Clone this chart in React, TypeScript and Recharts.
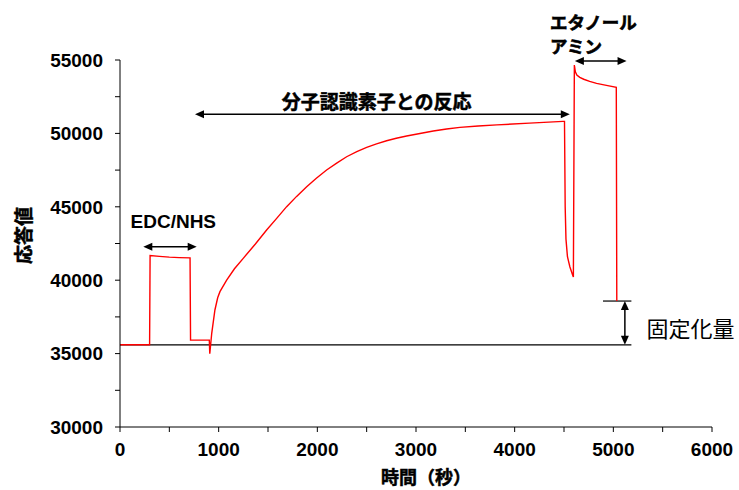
import {
  Line,
  LineChart,
  ReferenceDot,
  ReferenceLine,
  XAxis,
  YAxis,
} from "recharts";

// measured sensor response (time in s, response)
const times = [
  0, 300, 305, 400, 500, 600, 710, 715, 905, 910, 930, 962, 990, 1013, 1081,
  1160, 1249, 1370, 1486, 1590, 1689, 1790, 1892, 1990, 2094, 2200, 2297, 2400,
  2500, 2600, 2702, 2800, 2905, 3040, 3175, 3310, 3445, 3630, 3820, 4150, 4490,
  4505, 4512, 4520, 4535, 4560, 4590, 4595, 4605, 4615, 4630, 4660, 4700, 4760,
  4830, 4930, 5030, 5035,
];
const responses = [
  35600, 35600, 41680, 41620, 41570, 41540, 41520, 35920, 35920, 35000, 36400,
  37970, 38800, 39220, 40010, 40780, 41490, 42450, 43420, 44230, 45010, 45710,
  46370, 46950, 47510, 47990, 48410, 48760, 49050, 49290, 49500, 49670, 49820,
  49990, 50160, 50300, 50410, 50500, 50580, 50700, 50820, 50820, 45000, 42800,
  41600, 40900, 40300, 40220, 54660, 54200, 53980, 53820, 53690, 53540, 53410,
  53270, 53140, 38580,
];

const baseLevel = 35600;
const finalLevel = 38580;
const baseEnd = 5183;
const finalStart = 4895;

const xTicks = [0, 500, 1000, 1500, 2000, 2500, 3000, 3500, 4000, 4500, 5000, 5500, 6000];
const yTicks = [30000, 32500, 35000, 37500, 40000, 42500, 45000, 47500, 50000, 52500, 55000];

const series = times.map((t, i) => ({ t, v: responses[i] }));
const baseline = [
  { t: 0, v: baseLevel },
  { t: baseEnd, v: baseLevel },
];
const finalLine = [
  { t: finalStart, v: finalLevel },
  { t: baseEnd, v: finalLevel },
];

// annotation arrows: [t1, v1, t2, v2]
const arrows = [
  [236, 42280, 777, 42280],
  [760, 51300, 4559, 51300],
  [4610, 54930, 5134, 54930],
  [5117, finalLevel, 5117, baseLevel],
];

const LATIN = "'Liberation Sans', Arial, 'Noto Sans CJK JP', sans-serif";

function ArrowLine(props: any) {
  const { x1, y1, x2, y2 } = props;
  const dx = x2 - x1;
  const dy = y2 - y1;
  const len = Math.sqrt(dx * dx + dy * dy) || 1;
  const ux = dx / len;
  const uy = dy / len;
  const hl = 9;
  const hw = 4;
  const head = (px: number, py: number, dirx: number, diry: number) => {
    const bx = px - dirx * hl;
    const by = py - diry * hl;
    return `${px},${py} ${bx - diry * hw},${by + dirx * hw} ${bx + diry * hw},${by - dirx * hw}`;
  };
  return (
    <g>
      <line x1={x1 + ux * 4} y1={y1 + uy * 4} x2={x2 - ux * 4} y2={y2 - uy * 4} stroke="#000" strokeWidth={1.5} />
      <polygon points={head(x2, y2, ux, uy)} fill="#000" />
      <polygon points={head(x1, y1, -ux, -uy)} fill="#000" />
    </g>
  );
}

function textShape(label: string, size: number, weight: string, anchor: "start" | "middle", heavy = 0) {
  return (p: any) => (
    <text
      x={p.cx}
      y={p.cy}
      fontSize={size}
      fontWeight={weight}
      fontFamily={LATIN}
      textAnchor={anchor}
      dominantBaseline="central"
      fill="#000"
      stroke={heavy ? "#000" : "none"}
      strokeWidth={heavy}
    >
      {label}
    </text>
  );
}

function YTitle(props: any) {
  const vb = props.viewBox;
  const cx = vb.x + 24;
  const cy = vb.y + vb.height / 2 - 8;
  return (
    <text
      x={cx}
      y={cy}
      transform={`rotate(-90, ${cx}, ${cy})`}
      textAnchor="middle"
      dominantBaseline="central"
      fontSize={19}
      fontWeight="bold"
      fontFamily={LATIN}
      fill="#000"
      stroke="#000"
      strokeWidth={0.5}
    >
      応答値
    </text>
  );
}

function XTitle(props: any) {
  const vb = props.viewBox;
  return (
    <text
      x={vb.x + vb.width / 2 + 10}
      y={vb.y + 51}
      textAnchor="middle"
      dominantBaseline="central"
      fontSize={18}
      fontWeight="bold"
      fontFamily={LATIN}
      fill="#000"
      stroke="#000"
      strokeWidth={0.5}
    >
      時間（秒）
    </text>
  );
}

const tickStyle = { fill: "#000", fontSize: 19, fontWeight: "bold", fontFamily: LATIN };

export default function App() {
  return (
    <div style={{ position: "absolute", left: 0, top: 0, width: 739, height: 490, background: "#fff" }}>
      <LineChart
        width={739}
        height={490}
        margin={{ top: 60, right: 27, left: 0, bottom: 0 }}
      >
        <XAxis
          dataKey="t"
          type="number"
          domain={[0, 6000]}
          ticks={xTicks}
          tickFormatter={(v) => (v % 1000 === 0 ? String(v) : "")}
          tick={tickStyle}
          tickSize={5}
          tickMargin={11}
          stroke="#000"
          height={63}
          label={<XTitle />}
          allowDuplicatedCategory={false}
        />
        <YAxis
          type="number"
          domain={[30000, 55000]}
          ticks={yTicks}
          tickFormatter={(v) => (v % 5000 === 0 ? String(v) : "")}
          tick={tickStyle}
          tickSize={5}
          tickMargin={12}
          stroke="#000"
          width={120}
          label={<YTitle />}
        />
        <Line
          data={baseline}
          dataKey="v"
          type="linear"
          stroke="#000"
          strokeWidth={1.2}
          dot={false}
          isAnimationActive={false}
        />
        <Line
          data={finalLine}
          dataKey="v"
          type="linear"
          stroke="#000"
          strokeWidth={1.2}
          dot={false}
          isAnimationActive={false}
        />
        <Line
          data={series}
          dataKey="v"
          type="linear"
          stroke="#ff0000"
          strokeWidth={1.4}
          dot={false}
          isAnimationActive={false}
        />
        {arrows.map((a, i) => (
          <ReferenceLine
            key={i}
            segment={[
              { x: a[0], y: a[1] },
              { x: a[2], y: a[3] },
            ]}
            ifOverflow="visible"
            shape={ArrowLine}
          />
        ))}
        <ReferenceDot x={540} y={43965} r={0} ifOverflow="visible" shape={textShape("EDC/NHS", 19, "bold", "middle")} />
        <ReferenceDot x={2600} y={52090} r={0} ifOverflow="visible" shape={textShape("分子認識素子との反応", 19, "bold", "middle", 0.5)} />
        <ReferenceDot x={4357} y={57540} r={0} ifOverflow="visible" shape={textShape("エタノール", 17.5, "bold", "start", 0.6)} />
        <ReferenceDot x={4357} y={55905} r={0} ifOverflow="visible" shape={textShape("アミン", 17.5, "bold", "start", 0.6)} />
        <ReferenceDot x={5336} y={36610} r={0} ifOverflow="visible" shape={textShape("固定化量", 22, "normal", "start")} />
      </LineChart>
    </div>
  );
}
